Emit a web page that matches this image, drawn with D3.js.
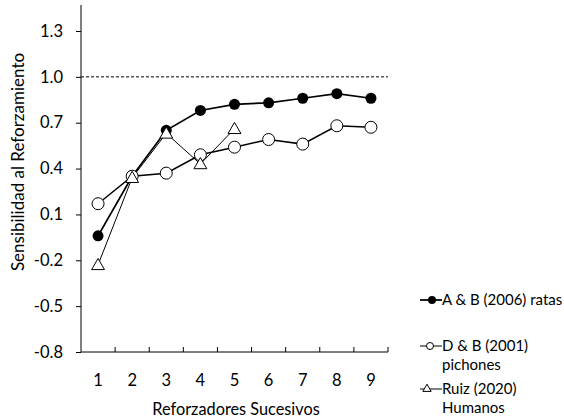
<!DOCTYPE html>
<html>
<head>
<meta charset="utf-8">
<script src="https://cdn.jsdelivr.net/npm/d3@7"></script>
<style>
	body { margin: 0; background: #fff; }
	text { font-family: Lato, "Open Sans", sans-serif; fill: #000; }
</style>
</head>
<body>
<svg id="chart" width="564" height="419"></svg>
<script>
let categories = [1, 2, 3, 4, 5, 6, 7, 8, 9];
let ratas = [-0.04, 0.35, 0.65, 0.78, 0.82, 0.83, 0.86, 0.89, 0.86];
let pichones = [0.17, 0.35, 0.37, 0.49, 0.54, 0.59, 0.56, 0.68, 0.67];
let humanos = [-0.23, 0.34, 0.63, 0.43, 0.66];
let yTicks = [-0.8, -0.5, -0.2, 0.1, 0.4, 0.7, 1.0, 1.3];
let legendNames = [["A & B (2006) ratas"], ["D & B (2001)", "pichones"], ["Ruiz (2020)", "Humanos"]];

let plotLeft = 81, plotRight = 388, plotTop = 5, plotBottom = 352;

let svg = d3.select("#chart");

let x = d3.scaleBand()
	.domain(categories)
	.range([plotLeft, plotRight]);

let y = d3.scaleLinear()
	.domain([-0.8, 1.47])
	.range([plotBottom, plotTop]);

// reference line at 1.0
svg.append("line")
	.attr("x1", plotLeft)
	.attr("x2", plotRight)
	.attr("y1", y(1.0))
	.attr("y2", y(1.0))
	.attr("stroke", "black")
	.attr("stroke-width", 1)
	.attr("stroke-dasharray", "3,2");

// y axis (plain hyphen for negatives, like the original)
let yAxis = svg.append("g")
	.attr("transform", "translate(" + plotLeft + ",0)")
	.call(d3.axisLeft(y).tickValues(yTicks).tickSize(5).tickPadding(13)
		.tickFormat(function(d) { return d.toFixed(1); }));
yAxis.select(".domain").attr("d", "M0," + plotTop + "V" + plotBottom);
yAxis.selectAll("text").style("font-size", "16.5px").style("font-family", "Lato, sans-serif");

// x axis, ticks between the categories pointing up
let xAxis = svg.append("g")
	.attr("transform", "translate(0," + plotBottom + ")");
xAxis.append("line")
	.attr("x1", plotLeft)
	.attr("x2", plotRight)
	.attr("stroke", "black");
xAxis.selectAll(".tk")
	.data(categories)
	.enter().append("line")
	.attr("class", "tk")
	.attr("x1", function(d) { return x(d) + x.bandwidth(); })
	.attr("x2", function(d) { return x(d) + x.bandwidth(); })
	.attr("y1", 0)
	.attr("y2", -5)
	.attr("stroke", "black");
xAxis.selectAll(".lb")
	.data(categories)
	.enter().append("text")
	.attr("class", "lb")
	.attr("x", function(d) { return x(d) + x.bandwidth()/2; })
	.attr("y", 34)
	.style("text-anchor", "middle")
	.style("font-size", "16.5px")
	.text(function(d) { return d; });

// axis titles
svg.append("text")
	.attr("x", 236)
	.attr("y", 415)
	.style("text-anchor", "middle")
	.style("font-size", "16.3px")
	.text("Reforzadores Sucesivos");

svg.append("text")
	.attr("x", 0 - 162)
	.attr("y", 24)
	.attr("transform", "rotate(-90)")
	.style("text-anchor", "middle")
	.style("font-size", "17px")
	.text("Sensibilidad al Reforzamiento");

function cx(d, i) { return x(categories[i]) + x.bandwidth()/2; }

let line = d3.line()
	.x(function(d, i) { return cx(d, i); })
	.y(function(d) { return y(d); });

let triangle = d3.symbol().type(d3.symbolTriangle).size(72);

// Ruiz (2020) Humanos
svg.append("path")
	.datum(humanos)
	.attr("d", line)
	.attr("fill", "none")
	.attr("stroke", "black")
	.attr("stroke-width", 1);

// D & B (2001) pichones
svg.append("path")
	.datum(pichones)
	.attr("d", line)
	.attr("fill", "none")
	.attr("stroke", "black")
	.attr("stroke-width", 1.5);

// A & B (2006) ratas
svg.append("path")
	.datum(ratas)
	.attr("d", line)
	.attr("fill", "none")
	.attr("stroke", "black")
	.attr("stroke-width", 1.75);

svg.selectAll(".ratas")
	.data(ratas)
	.enter().append("circle")
	.attr("class", "ratas")
	.attr("cx", cx)
	.attr("cy", function(d) { return y(d); })
	.attr("r", 5.5)
	.attr("fill", "black");

svg.selectAll(".pichones")
	.data(pichones)
	.enter().append("circle")
	.attr("class", "pichones")
	.attr("cx", cx)
	.attr("cy", function(d) { return y(d); })
	.attr("r", 6)
	.attr("fill", "white")
	.attr("stroke", "black")
	.attr("stroke-width", 1);

svg.selectAll(".humanos")
	.data(humanos)
	.enter().append("path")
	.attr("class", "humanos")
	.attr("d", triangle)
	.attr("transform", function(d, i) { return "translate(" + cx(d, i) + "," + (y(d) + 1) + ")"; })
	.attr("fill", "white")
	.attr("stroke", "black")
	.attr("stroke-width", 1);

// legend
let legendY = [300, 346, 389];
let legend = svg.selectAll(".legend")
	.data(legendNames)
	.enter().append("g")
	.attr("class", "legend")
	.attr("transform", function(d, i) { return "translate(420," + legendY[i] + ")"; });

legend.append("line")
	.attr("x1", 0)
	.attr("x2", 22)
	.attr("stroke", "black")
	.attr("stroke-width", function(d, i) { return [1.75, 1, 1][i]; });

legend.each(function(d, i) {
	let g = d3.select(this);
	if (i == 0) {
		g.append("circle").attr("cx", 12).attr("r", 4).attr("fill", "black");
	} else if (i == 1) {
		g.append("circle").attr("cx", 10).attr("r", 3.5).attr("fill", "white").attr("stroke", "black");
	} else {
		g.append("path")
			.attr("d", d3.symbol().type(d3.symbolTriangle).size(30))
			.attr("transform", "translate(7,0)")
			.attr("fill", "white")
			.attr("stroke", "black");
	}
	g.selectAll("text")
		.data(d)
		.enter().append("text")
		.attr("x", 22)
		.attr("y", function(t, j) { return j*18.5 + 5; })
		.style("font-size", "15px")
		.text(function(t) { return t; });
});
</script>
</body>
</html>
